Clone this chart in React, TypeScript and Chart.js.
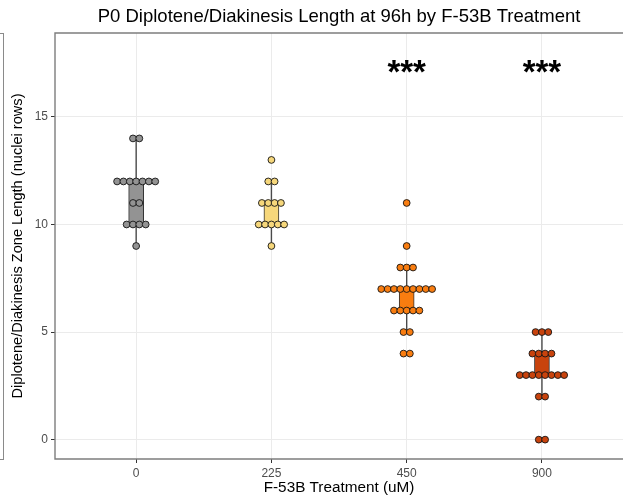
import React, { useEffect, useRef } from "react";
import { Chart, registerables } from "chart.js";
Chart.register(...registerables);

// ---- data ----
const categories = ["0", "225", "450", "900"];
const values0 = [14, 14, 12, 12, 12, 12, 12, 12, 12, 11, 11, 10, 10, 10, 10, 9];
const values225 = [13, 12, 12, 11, 11, 11, 11, 10, 10, 10, 10, 10, 9];
const values450 = [11, 9, 8, 8, 8, 7, 7, 7, 7, 7, 7, 7, 7, 7, 6, 6, 6, 6, 6, 5, 5, 4, 4];
const values900 = [5, 5, 5, 4, 4, 4, 4, 3, 3, 3, 3, 3, 3, 3, 3, 2, 2, 0, 0];
const groups = [values0, values225, values450, values900];
const fills = ["#939393", "#F6D77B", "#F97D10", "#C8430D"];
const yTicks = [0, 5, 10, 15];
const stars = ["", "", "***", "***"];
const starY = 17;
const titleText = "P0 Diplotene/Diakinesis Length at 96h by F-53B Treatment";
const xTitle = "F-53B Treatment (uM)";
const yTitle = "Diplotene/Diakinesis Zone Length (nuclei rows)";

const FONT = "'Liberation Sans', Arial, Helvetica, sans-serif";
const DOT_STEP = 0.047; // horizontal step between stacked dots (x units)
const HALF_MED = 0.055;

function quantile(sorted: number[], p: number) {
  const h = (sorted.length - 1) * p;
  const lo = Math.floor(h);
  const hi = Math.ceil(h);
  return sorted[lo] + (sorted[hi] - sorted[lo]) * (h - lo);
}

function boxStats(vals: number[]) {
  const s = [...vals].sort((a, b) => a - b);
  const q1 = quantile(s, 0.25);
  const med = quantile(s, 0.5);
  const q3 = quantile(s, 0.75);
  const iqr = q3 - q1;
  const lo = s.filter((v) => v >= q1 - 1.5 * iqr)[0];
  const hiArr = s.filter((v) => v <= q3 + 1.5 * iqr);
  const hi = hiArr[hiArr.length - 1];
  return { q1, med, q3, lo, hi };
}

function dotPoints(vals: number[], g: number) {
  const counts = new Map<number, number>();
  vals.forEach((v) => counts.set(v, (counts.get(v) || 0) + 1));
  const pts: { x: number; y: number }[] = [];
  counts.forEach((n, v) => {
    for (let i = 0; i < n; i++) {
      pts.push({ x: g + (i - (n - 1) / 2) * DOT_STEP, y: v });
    }
  });
  return pts;
}

const decor = {
  id: "decor",
  beforeDatasetsDraw(chart: any) {
    const { ctx, chartArea } = chart;
    ctx.save();
    ctx.strokeStyle = "#7d7d7d";
    ctx.lineWidth = 1.4;
    ctx.beginPath();
    ctx.moveTo(chartArea.right + 2, chartArea.top);
    ctx.lineTo(chartArea.left, chartArea.top);
    ctx.lineTo(chartArea.left, chartArea.bottom);
    ctx.lineTo(chartArea.right + 2, chartArea.bottom);
    ctx.stroke();
    ctx.restore();
  },
  afterDatasetsDraw(chart: any) {
    const { ctx, chartArea, scales } = chart;
    ctx.save();
    ctx.fillStyle = "#000";
    ctx.textAlign = "center";
    ctx.textBaseline = "middle";
    ctx.font = `bold 33px ${FONT}`;
    stars.forEach((s, i) => {
      if (!s) return;
      ctx.fillText(s, scales.x.getPixelForValue(i + 1), scales.y.getPixelForValue(starY));
    });
    ctx.font = `18.5px ${FONT}`;
    ctx.fillText(titleText, (chartArea.left + chartArea.right) / 2, 17);
    ctx.restore();
  },
};

export default function App() {
  const ref = useRef<HTMLCanvasElement | null>(null);
  useEffect(() => {
    if (!ref.current) return;
    const stats = groups.map(boxStats);
    const datasets: any[] = [];
    groups.forEach((vals, i) => {
      datasets.push({
        type: "scatter",
        data: dotPoints(vals, i + 1),
        backgroundColor: fills[i],
        borderColor: "#151515",
        pointRadius: 3.4,
        pointBorderWidth: 0.9,
        order: 0,
      });
    });
    stats.forEach((st, i) => {
      datasets.push({
        type: "line",
        data: [
          { x: i + 1 - HALF_MED, y: st.med },
          { x: i + 1 + HALF_MED, y: st.med },
        ],
        borderColor: "#333",
        borderWidth: 1.5,
        pointRadius: 0,
        order: 1,
      });
      datasets.push({
        type: "line",
        data: [
          { x: i + 1, y: st.lo },
          { x: i + 1, y: st.hi },
        ],
        borderColor: "#4a4a4a",
        borderWidth: 1.4,
        pointRadius: 0,
        order: 3,
      });
    });
    datasets.push({
      type: "bar",
      data: stats.map((st, i) => ({ x: i + 1, y: [st.q1, st.q3] })),
      backgroundColor: fills,
      borderColor: "#333",
      borderWidth: 1,
      borderSkipped: false,
      barThickness: 15,
      order: 2,
    });

    const chart = new Chart(ref.current, {
      type: "scatter",
      data: { datasets },
      plugins: [decor],
      options: {
        animation: false,
        responsive: false,
        devicePixelRatio: 1,
        layout: { padding: { top: 33, right: 1, left: 0, bottom: 0 } },
        plugins: { legend: { display: false }, tooltip: { enabled: false }, title: { display: false } },
        scales: {
          x: {
            type: "linear",
            min: 0.4,
            max: 4.6,
            offset: false,
            afterBuildTicks: (s: any) => {
              s.ticks = categories.map((_, i) => ({ value: i + 1 }));
            },
            afterFit: (s: any) => {
              s.height = 40;
            },
            grid: { color: "#ebebeb", tickColor: "#333", tickLength: 4, offset: false },
            border: { display: false },
            ticks: {
              callback: (v: any) => categories[Math.round(v) - 1] ?? "",
              color: "#4d4d4d",
              font: { size: 12, family: FONT },
              padding: 3,
              maxRotation: 0,
            },
            title: {
              display: true,
              text: xTitle,
              color: "#000",
              font: { size: 15.3, family: FONT },
              padding: { top: 0, bottom: 2 },
            },
          },
          y: {
            type: "linear",
            min: -0.9,
            max: 18.9,
            afterBuildTicks: (s: any) => {
              s.ticks = yTicks.map((v) => ({ value: v }));
            },
            afterFit: (s: any) => {
              s.width = 55;
            },
            grid: { color: "#ebebeb", tickColor: "#333", tickLength: 4 },
            border: { display: false },
            ticks: {
              color: "#4d4d4d",
              font: { size: 12, family: FONT },
              padding: 3,
            },
            title: {
              display: true,
              text: yTitle,
              color: "#000",
              font: { size: 14.6, family: FONT },
              padding: { top: 9, bottom: 0 },
            },
          },
        },
      } as any,
    });
    return () => chart.destroy();
  }, []);

  return (
    <div
      style={{
        position: "absolute",
        left: 0,
        top: 0,
        width: 623,
        height: 499,
        overflow: "hidden",
        background: "#fff",
      }}
    >
      <div
        style={{
          position: "absolute",
          left: -12,
          top: 33,
          width: 16,
          height: 427,
          boxSizing: "border-box",
          border: "1px solid #8a8a8a",
        }}
      />
      <canvas ref={ref} width={628} height={499} style={{ position: "absolute", left: 0, top: 0 }} />
    </div>
  );
}
